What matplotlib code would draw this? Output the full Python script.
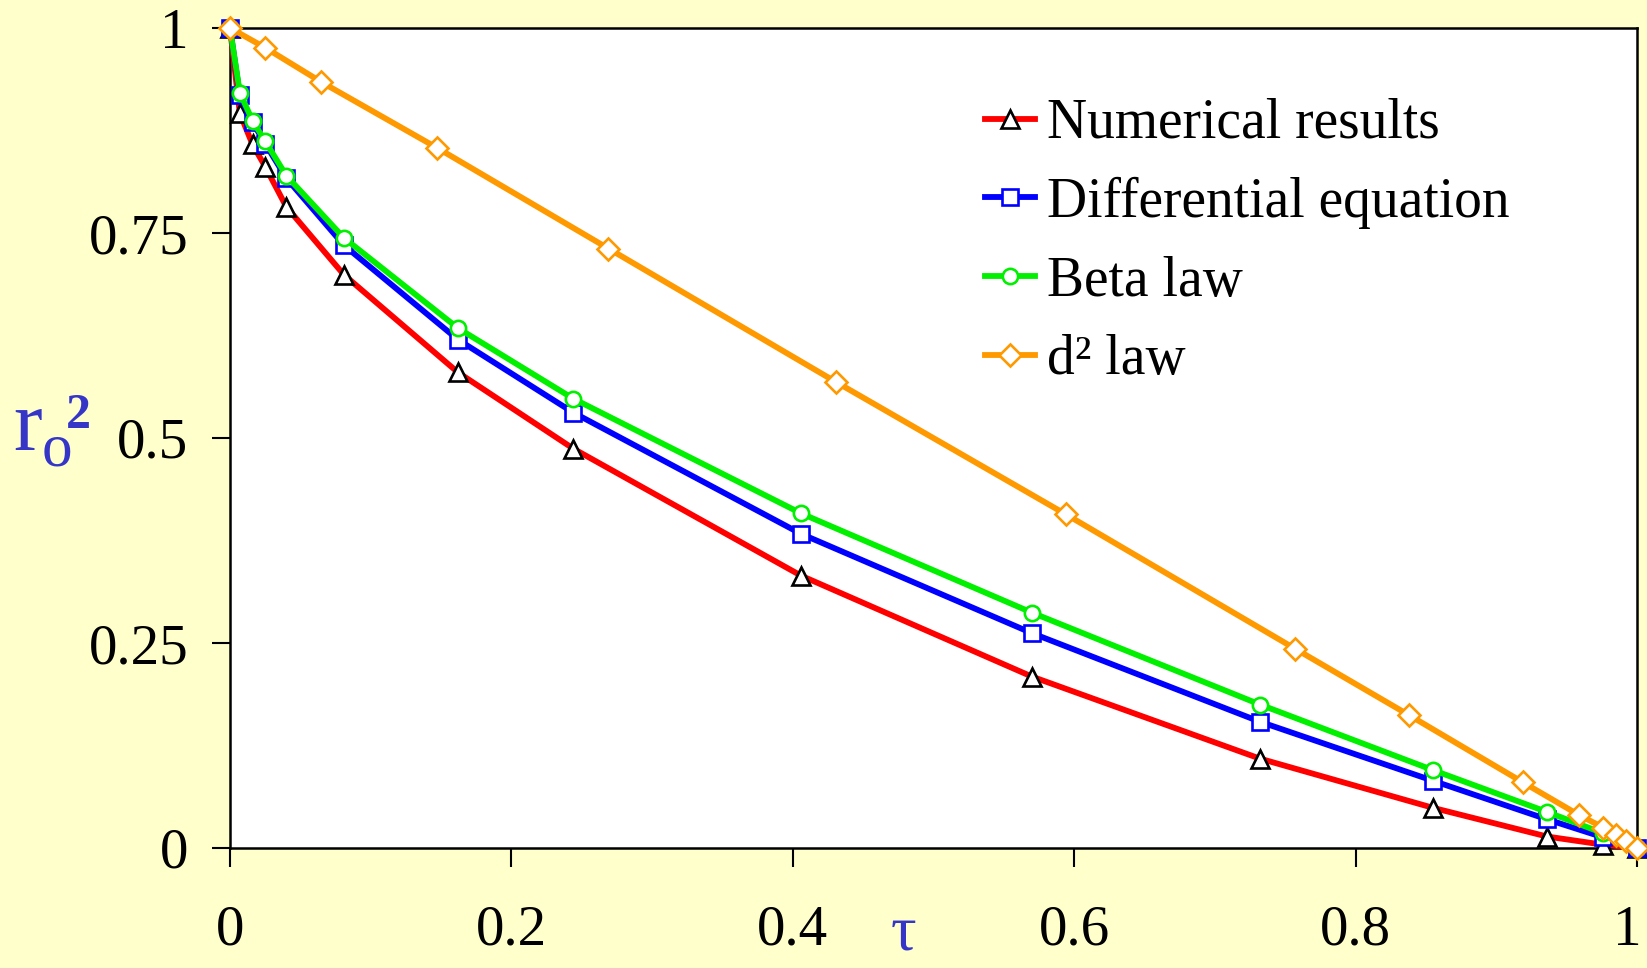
import matplotlib
matplotlib.use("Agg")
import matplotlib.pyplot as plt
from matplotlib.transforms import ScaledTranslation

# ---- data ----
tau = [0, 0.007, 0.016, 0.025, 0.040, 0.081, 0.162, 0.244, 0.406, 0.570, 0.732, 0.855, 0.936, 0.976, 1.0]
numerical = [1, 0.896, 0.858, 0.831, 0.782, 0.699, 0.580, 0.487, 0.332, 0.209, 0.109, 0.049, 0.014, 0.004, 0]
diff_eq = [1, 0.918, 0.885, 0.859, 0.817, 0.735, 0.620, 0.531, 0.383, 0.262, 0.154, 0.082, 0.035, 0.013, 0]
beta_law = [1, 0.921, 0.887, 0.862, 0.820, 0.744, 0.634, 0.548, 0.408, 0.287, 0.175, 0.095, 0.044, 0.018, 0]

tau_d2 = [0, 0.025, 0.065, 0.147, 0.269, 0.431, 0.594, 0.757, 0.838, 0.919, 0.959, 0.976, 0.985, 0.992, 1.0]
d2_law = [1, 0.976, 0.934, 0.854, 0.731, 0.568, 0.407, 0.243, 0.162, 0.080, 0.040, 0.025, 0.016, 0.008, 0]

labels = ["Numerical results", "Differential equation", "Beta law", "d\u00b2 law"]
xticks = [0, 0.2, 0.4, 0.6, 0.8, 1]
xticklabels = ["0", "0.2", "0.4", "0.6", "0.8", "1"]
yticks = [0, 0.25, 0.5, 0.75, 1]
yticklabels = ["0", "0.25", "0.5", "0.75", "1"]

SERIF = "Liberation Serif"
BG = "#FFFFCC"
LABEL_BLUE = "#3535C8"

fig = plt.figure(figsize=(16.47, 9.68), dpi=100, facecolor=BG)
ax = fig.add_axes([230 / 1647, 1 - 848 / 968, (1637 - 230) / 1647, (848 - 28) / 968])
ax.set_facecolor("white")

lw = 4.2
mew = 1.9
ax.plot(tau, numerical, color="#FF0000", lw=lw, marker="^", ms=12.5, mfc="white",
        mec="black", mew=mew, clip_on=False, label=labels[0], zorder=3)
ax.plot(tau, diff_eq, color="#0000FF", lw=lw, marker="s", ms=11, mfc="white",
        mec="#0000FF", mew=mew, clip_on=False, label=labels[1], zorder=4)
ax.plot(tau, beta_law, color="#00F000", lw=lw, marker="o", ms=11, mfc="white",
        mec="#00F000", mew=mew, clip_on=False, label=labels[2], zorder=5)
ax.plot(tau_d2, d2_law, color="#FF9900", lw=lw, marker="D", ms=11, mfc="white",
        mec="#FF9900", mew=mew, clip_on=False, label=labels[3], zorder=6)

ax.set_xlim(0, 1)
ax.set_ylim(0, 1)
ax.set_xticks(xticks)
ax.set_xticklabels(xticklabels)
ax.set_yticks(yticks)
ax.set_yticklabels(yticklabels)
for lab in ax.get_xticklabels() + ax.get_yticklabels():
    lab.set_fontfamily(SERIF)
    lab.set_fontsize(41)
ax.tick_params(axis="x", direction="out", length=14, width=1.5, pad=27, colors="black")
ax.tick_params(axis="y", direction="out", length=13, width=1.5, pad=17, colors="black")
last = ax.get_xticklabels()[-1]
last.set_transform(last.get_transform() + ScaledTranslation(-10 / 100, 0, fig.dpi_scale_trans))
for s in ax.spines.values():
    s.set_linewidth(1.8)
    s.set_color("black")

leg = ax.legend(loc="upper left", bbox_to_anchor=(985 / 1647, 1 - 98 / 968),
                bbox_transform=fig.transFigure, frameon=False,
                prop={"family": SERIF, "size": 40}, handlelength=0.9,
                handletextpad=0.22, labelspacing=0.48, borderpad=0, borderaxespad=0)

# axis labels
fig.text(13 / 1647, 1 - 450 / 968, "r", fontsize=62, family=SERIF, color=LABEL_BLUE,
         va="baseline", ha="left")
fig.text(42 / 1647, 1 - 466 / 968, "o", fontsize=44, family=SERIF, color=LABEL_BLUE,
         va="baseline", ha="left")
fig.text(66 / 1647, 1 - 428 / 968, "2", fontsize=36, family=SERIF, color=LABEL_BLUE,
         fontweight="bold", va="baseline", ha="left")
fig.text(903 / 1647, 1 - 950 / 968, "\u03c4", fontsize=46, family=SERIF, color=LABEL_BLUE,
         va="baseline", ha="center")

fig.savefig("out.png", dpi=100, facecolor=BG)
